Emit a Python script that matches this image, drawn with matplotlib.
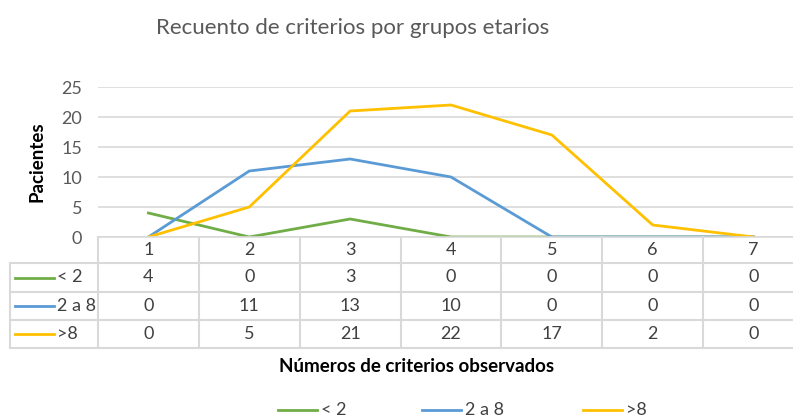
import matplotlib
matplotlib.use("Agg")
import matplotlib.pyplot as plt
from matplotlib.lines import Line2D

plt.rcParams['font.family'] = ['Lato', 'DejaVu Sans']

criterios = [1, 2, 3, 4, 5, 6, 7]
series_names = ["< 2", "2 a 8", ">8"]
menor_2 = [4, 0, 3, 0, 0, 0, 0]
de_2_a_8 = [0, 11, 13, 10, 0, 0, 0]
mayor_8 = [0, 5, 21, 22, 17, 2, 0]
y_ticks = [0, 5, 10, 15, 20, 25]

colores = ['#70ad47', '#5b9bd5', '#ffc000']
valores = [menor_2, de_2_a_8, mayor_8]

W, H = 793, 420
fig = plt.figure(figsize=(W / 100, H / 100), dpi=100)


def fx(px):
    return px / W


def fy(py):
    return 1 - py / H


left, right = 98, 804
top, bottom = 87, 237
ax = fig.add_axes([fx(left), fy(bottom), fx(right) - fx(left), fy(top) - fy(bottom)])
ax.set_xlim(0.5, 7.5)
ax.set_ylim(0, 25)
ax.set_yticks(y_ticks)
ax.yaxis.grid(True, color='#d9d9d9', linewidth=1.2)
ax.set_axisbelow(True)
for s in ['top', 'right', 'left']:
    ax.spines[s].set_visible(False)
ax.spines['bottom'].set_color('#d9d9d9')
ax.spines['bottom'].set_linewidth(1.2)
ax.set_xticks([])
ax.tick_params(axis='y', length=0, labelsize=13, labelcolor='#595959', pad=11.5)

for vals, c in zip(valores, colores):
    ax.plot(criterios, vals, color=c, linewidth=2.0, solid_joinstyle='miter')

ax.set_ylabel("Pacientes", fontsize=13.5, fontweight='bold', color='black')
ax.yaxis.set_label_coords((46 - left) / (right - left), 0.5)

fig.text(fx(353), fy(28), "Recuento de criterios por grupos etarios",
         fontsize=16, color='#595959', ha='center', va='center')

# tabla de datos
grid_c = '#d9d9d9'
row_lines = [237, 263, 292, 320, 348]
col_w = (right - left) / len(criterios)
col_edges = [left + i * col_w for i in range(len(criterios) + 1)]


def hline(x0, x1, y):
    fig.add_artist(Line2D([fx(x0), fx(x1)], [fy(y), fy(y)], color=grid_c, linewidth=1.5))


def vline(x, y0, y1):
    fig.add_artist(Line2D([fx(x), fx(x)], [fy(y0), fy(y1)], color=grid_c, linewidth=1.5))


hline(left, right, row_lines[1])
for y in row_lines[2:]:
    hline(10, right, y)
hline(10, left, row_lines[1])
vline(10, row_lines[1], row_lines[-1])
for x in col_edges:
    vline(x, row_lines[0], row_lines[-1])

for i, c in enumerate(criterios):
    cx = left + (i + 0.5) * col_w
    fig.text(fx(cx), fy((row_lines[0] + row_lines[1]) / 2), str(c),
             fontsize=13, color='#404040', ha='center', va='center')
    for r, vals in enumerate(valores):
        cy = (row_lines[r + 1] + row_lines[r + 2]) / 2
        fig.text(fx(cx), fy(cy), str(vals[i]),
                 fontsize=13, color='#404040', ha='center', va='center')

for r, (name, c) in enumerate(zip(series_names, colores)):
    cy = (row_lines[r + 1] + row_lines[r + 2]) / 2
    fig.add_artist(Line2D([fx(15), fx(54)], [fy(cy), fy(cy)], color=c, linewidth=2.0))
    fig.text(fx(57), fy(cy), name, fontsize=13, color='#404040', ha='left', va='center')

fig.text(fx(417), fy(367), "Números de criterios observados",
         fontsize=13.5, fontweight='bold', color='black', ha='center', va='center')

# leyenda
leg_x = [278, 422, 583]
for x0, name, c in zip(leg_x, series_names, colores):
    fig.add_artist(Line2D([fx(x0), fx(x0 + 39)], [fy(410), fy(410)], color=c, linewidth=2.0))
    fig.text(fx(x0 + 43), fy(410), name, fontsize=13, color='#404040', ha='left', va='center')

fig.savefig("out.png", dpi=100)
